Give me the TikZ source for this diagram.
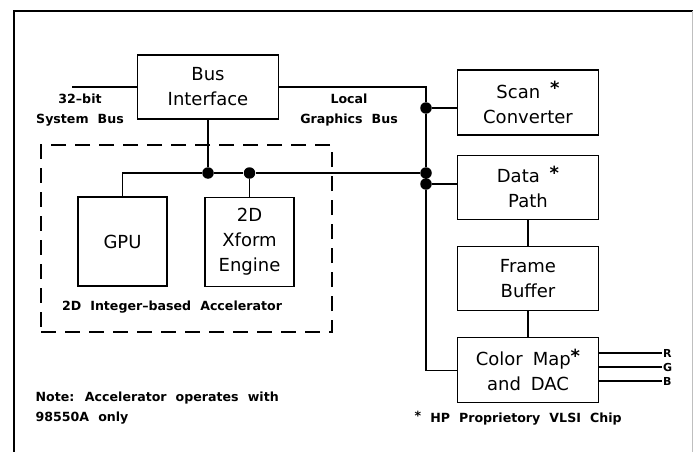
\documentclass[tikz,border=0pt]{standalone}
\usepackage{fontspec}
\setmainfont{DejaVu Sans}
\usepackage{tikz}
\usetikzlibrary{positioning}

\newcommand{\boxfont}{\fontsize{18}{25}\selectfont\spaceskip=0.55em\relax}
\newcommand{\notefont}{\fontsize{12.6}{20.5}\selectfont\bfseries\spaceskip=0.72em\relax}
\newcommand{\chipmark}{{\bfseries\raisebox{0.18em}{*}}}

\begin{document}
\begin{tikzpicture}[x=1pt, y=-1pt, line width=1.2pt,
        block/.style={draw, align=center, font=\boxfont, minimum width=141pt, minimum height=64pt, inner sep=2pt},
        chip/.style={block, minimum width=89pt, minimum height=89pt},
        dot/.style={circle, fill, inner sep=0pt, minimum size=11.5pt},
        bustext/.style={font=\notefont, align=center, inner sep=1pt},
        notetext/.style={font=\notefont, align=left, inner sep=1pt},
        rgb/.style={font=\fontsize{11}{11}\selectfont\bfseries, inner sep=0.5pt},
        accel/.style={draw, dash pattern=on 15pt off 9pt, minimum width=291pt, minimum height=187pt}]
        \useasboundingbox (0,0) rectangle (693,452);
        \draw (14,452) -- (14,11) -- (693,11);
        \draw[black!25, line width=0.6pt] (692,11) -- (692,452);

        \node[block] (bif) at (208,87) {Bus\\Interface};
        \node[block, minimum height=65pt] (scan) at (528,102.5) {Scan \chipmark\\Converter};
        \node[block] (dpath) [below=19pt of scan] {Data \chipmark\\Path};
        \node[block] (fbuf) [below=26pt of dpath] {Frame\\Buffer};
        \node[block, minimum height=65pt] (cmap) [below=26pt of fbuf] {Color Map\chipmark\\and DAC};

        \node[accel] (acc) at (186.5,238.5) {};
        \node[chip] (gpu) at (122.5,241.5) {GPU};
        \node[chip] (xf) at (249.5,242) {2D\\Xform\\Engine};

        \node[dot] (j1) at (426,108) {};
        \node[dot] (j2) at (426,173) {};
        \node[dot] (j3) at (426,184) {};
        \node[dot] (ja) at (bif.south |- j2) {};
        \node[dot] (jb) at (xf.north |- j2) {};

        \coordinate (sys) at (72,87);
        \draw (sys) -- (bif);
        \draw (bif) -| (j1);
        \draw (j1) -- (j2);
        \draw (j2) -- (j3);
        \draw (j3) |- (cmap);
        \draw (j1) -- (j1 -| scan.west);
        \draw (j3) -- (j3 -| dpath.west);
        \draw (j2) -- (jb) -- (ja) -| (gpu);
        \draw (bif) -- (ja);
        \draw (jb) -- (xf);
        \draw (dpath) -- (fbuf);
        \draw (fbuf) -- (cmap);

        \node[rgb, anchor=west] (r) at (662,353) {R};
        \node[rgb, anchor=west] (g) at (662,367) {G};
        \node[rgb, anchor=west] (b) at (662,381) {B};
        \draw (cmap.east |- r) -- (r);
        \draw (cmap.east |- g) -- (g);
        \draw (cmap.east |- b) -- (b);

        \node[bustext] (sysl) at (80,110) {32--bit\\System Bus};
        \node[bustext] (lgb) at (349,110) {Local\\Graphics Bus};
        \node[bustext] (accl) at (172,307) {2D Integer--based Accelerator};
        \node[notetext, anchor=west] (note) at (34,408) {Note: Accelerator operates with\\98550A only};
        \node[notetext, anchor=west] (foot) at (413,418) {\chipmark\ HP Proprietory VLSI Chip};
    \end{tikzpicture}
\end{document}
